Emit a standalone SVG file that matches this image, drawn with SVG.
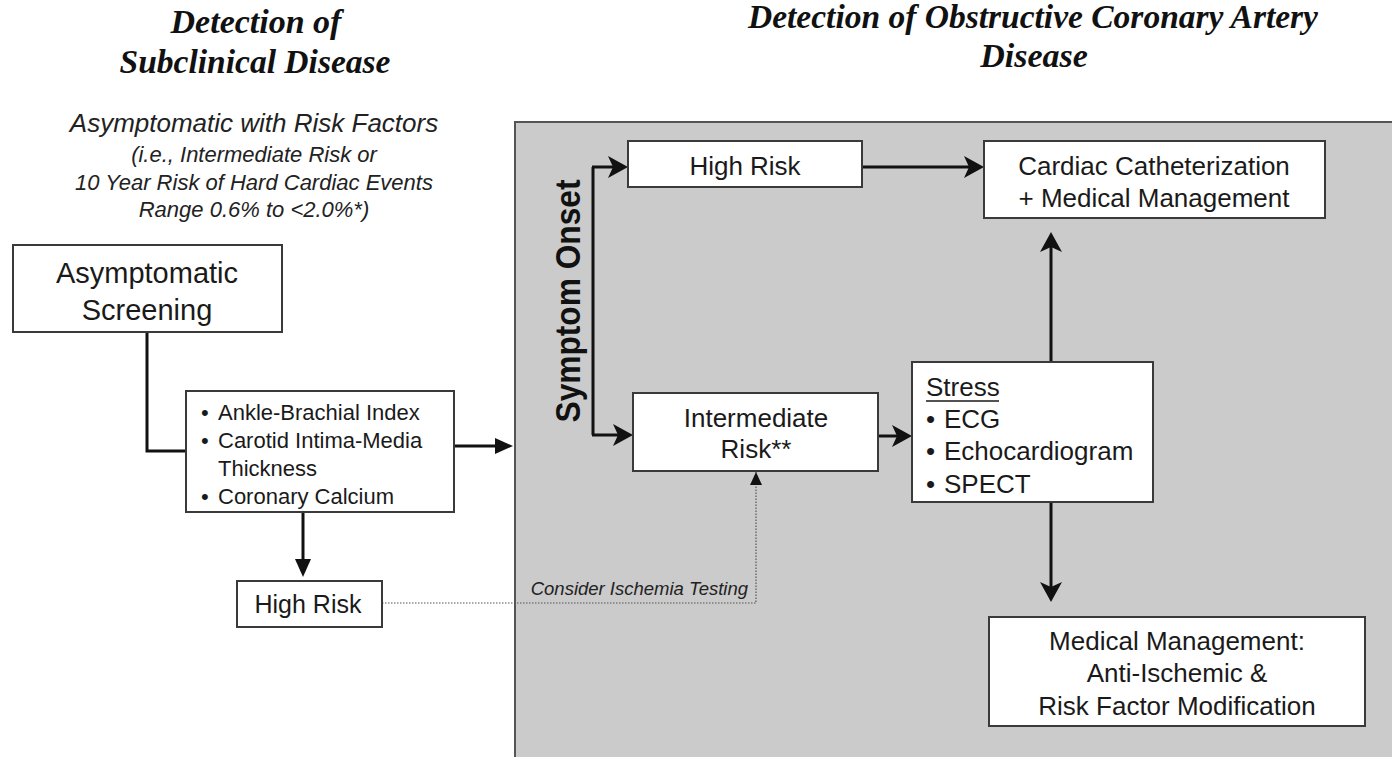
<svg xmlns="http://www.w3.org/2000/svg" width="1392" height="757" viewBox="0 0 1392 757">
  <style>
    .title { font-family: "Liberation Serif", "Times New Roman", serif; font-weight: bold; font-style: italic; font-size: 34px; fill: #111; text-anchor: middle; }
    .sub { font-family: "Liberation Sans", Arial, sans-serif; font-style: italic; fill: #222; text-anchor: middle; }
    .lbl { font-family: "Liberation Sans", Arial, sans-serif; font-size: 26px; fill: #1a1a1a; }
    .mid { text-anchor: middle; }
    .box { fill: #ffffff; stroke: #3a3a3a; stroke-width: 2; }
    .wire { fill: none; stroke: #111; stroke-width: 3; }
    .dots { fill: none; stroke: #555; stroke-width: 1.2; stroke-dasharray: 1.5 1.5; }
  </style>
  <defs>
    <marker id="stealth" markerUnits="userSpaceOnUse" viewBox="0 0 20 22" markerWidth="20" markerHeight="22" refX="12" refY="11" orient="auto">
      <path d="M0,0 L20,11 L0,22 L5,11 z" fill="#111"/>
    </marker>
    <marker id="tri" markerUnits="userSpaceOnUse" viewBox="0 0 18 16" markerWidth="18" markerHeight="16" refX="10" refY="8" orient="auto">
      <path d="M0,0 L18,8 L0,16 z" fill="#111"/>
    </marker>
    <marker id="tiny" markerUnits="userSpaceOnUse" viewBox="0 0 13 12" markerWidth="13" markerHeight="12" refX="13" refY="6" orient="auto">
      <path d="M0,0 L13,6 L0,12 z" fill="#111"/>
    </marker>
  </defs>

  <!-- column headings -->
  <g id="heading-left">
    <text class="title" x="256" y="33">Detection of</text>
    <text class="title" x="255" y="73" textLength="271" lengthAdjust="spacingAndGlyphs">Subclinical Disease</text>
  </g>
  <g id="heading-right">
    <text class="title" x="1033" y="28" textLength="570" lengthAdjust="spacingAndGlyphs">Detection of Obstructive Coronary Artery</text>
    <text class="title" x="1034" y="67">Disease</text>
  </g>

  <g id="population">
    <text class="sub" x="254" y="132" font-size="26">Asymptomatic with Risk Factors</text>
    <text class="sub" x="254" y="162" font-size="22">(i.e., Intermediate Risk or</text>
    <text class="sub" x="254" y="190" font-size="22">10 Year Risk of Hard Cardiac Events</text>
    <text class="sub" x="254" y="217" font-size="22">Range 0.6% to &lt;2.0%*)</text>
  </g>

  <!-- shaded region for symptomatic pathway -->
  <g id="symptomatic-panel">
    <rect x="515" y="122" width="900" height="700" fill="#cbcbcb" stroke="#555" stroke-width="2"/>
  </g>

  <g id="connectors">
    <path class="wire" d="M147,332 V451 H186"/>
    <path class="wire" d="M454,446 H505" marker-end="url(#tri)"/>
    <path class="wire" d="M303,512 V569" marker-end="url(#tri)"/>
    <path class="dots" d="M382,603 H756 V472" marker-end="url(#tiny)"/>
    <path class="wire" d="M593,167 V435"/>
    <path class="wire" d="M592,167 H620" marker-end="url(#stealth)"/>
    <path class="wire" d="M592,435 H625" marker-end="url(#stealth)"/>
    <path class="wire" d="M862,167 H976" marker-end="url(#stealth)"/>
    <path class="wire" d="M878,436 H904" marker-end="url(#stealth)"/>
    <path class="wire" d="M1051,362 V240" marker-end="url(#stealth)"/>
    <path class="wire" d="M1051,502 V594" marker-end="url(#stealth)"/>
  </g>

  <g id="edge-label">
    <text class="sub" x="748" y="595" font-size="18.5" style="text-anchor:end">Consider Ischemia Testing</text>
  </g>

  <g id="symptom-onset">
    <text x="0" y="0" transform="translate(580,301) rotate(-90)" font-family="Liberation Sans, Arial, sans-serif" font-weight="bold" font-size="35" fill="#111" text-anchor="middle" textLength="243" lengthAdjust="spacingAndGlyphs">Symptom Onset</text>
  </g>

  <g id="asymptomatic-screening">
    <rect class="box" x="13" y="245" width="269" height="87"/>
    <text class="lbl mid" x="147" y="283" font-size="29" style="font-size:29px">Asymptomatic</text>
    <text class="lbl mid" x="147" y="320" font-size="29" style="font-size:29px">Screening</text>
  </g>

  <g id="screening-tests">
    <rect class="box" x="186" y="391" width="268" height="121"/>
    <g class="lbl">
      <text x="201" y="420" style="font-size:22px">•</text>
      <text x="218" y="420" style="font-size:22px">Ankle-Brachial Index</text>
      <text x="201" y="448" style="font-size:22px">•</text>
      <text x="218" y="448" style="font-size:22px">Carotid Intima-Media</text>
      <text x="218" y="476" style="font-size:22px">Thickness</text>
      <text x="201" y="504" style="font-size:22px">•</text>
      <text x="218" y="504" style="font-size:22px">Coronary Calcium</text>
    </g>
  </g>

  <g id="high-risk-asymptomatic">
    <rect class="box" x="237" y="581" width="145" height="46"/>
    <text class="lbl mid" x="308" y="613" style="font-size:25px">High Risk</text>
  </g>

  <g id="high-risk-symptomatic">
    <rect class="box" x="628" y="141" width="234" height="46"/>
    <text class="lbl mid" x="745" y="175">High Risk</text>
  </g>

  <g id="intermediate-risk">
    <rect class="box" x="633" y="393" width="245" height="78"/>
    <text class="lbl mid" x="756" y="427">Intermediate</text>
    <text class="lbl mid" x="756" y="458">Risk**</text>
  </g>

  <g id="cardiac-cath">
    <rect class="box" x="984" y="141" width="341" height="77"/>
    <text class="lbl mid" x="1154" y="175">Cardiac Catheterization</text>
    <text class="lbl mid" x="1154" y="207">+ Medical Management</text>
  </g>

  <g id="stress-testing">
    <rect class="box" x="912" y="362" width="241" height="140"/>
    <text class="lbl" x="926" y="396">Stress</text>
    <line x1="926" y1="401" x2="999" y2="401" stroke="#1a1a1a" stroke-width="1.6"/>
    <text class="lbl" x="926" y="428">•</text>
    <text class="lbl" x="944" y="428">ECG</text>
    <text class="lbl" x="926" y="460">•</text>
    <text class="lbl" x="944" y="460">Echocardiogram</text>
    <text class="lbl" x="926" y="493">•</text>
    <text class="lbl" x="944" y="493">SPECT</text>
  </g>

  <g id="medical-management">
    <rect class="box" x="989" y="617" width="376" height="109"/>
    <text class="lbl mid" x="1177" y="650">Medical Management:</text>
    <text class="lbl mid" x="1177" y="682">Anti-Ischemic &amp;</text>
    <text class="lbl mid" x="1177" y="715">Risk Factor Modification</text>
  </g>
</svg>
